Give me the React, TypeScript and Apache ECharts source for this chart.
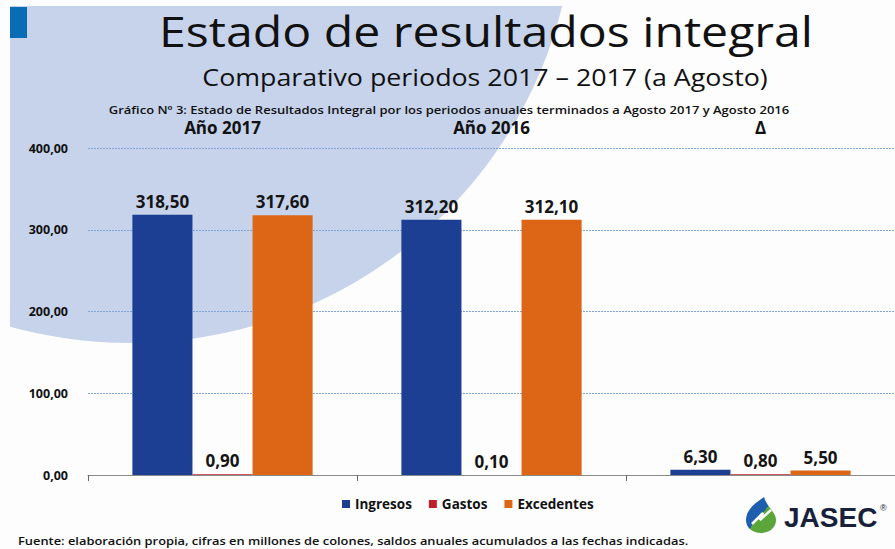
import React, { useEffect, useRef } from "react";
import * as echarts from "echarts";

const categories = ["Año 2017", "Año 2016", "Δ"];
const ingresos = [318.5, 312.2, 6.3];
const gastos = [0.9, 0.1, 0.8];
const excedentes = [317.6, 312.1, 5.5];
const seriesNames = ["Ingresos", "Gastos", "Excedentes"];

const mainTitle = "Estado de resultados integral";
const subTitle = "Comparativo periodos 2017 – 2017 (a Agosto)";
const chartCaption =
  "Gráfico Nº 3: Estado de Resultados Integral por los periodos anuales terminados a Agosto 2017 y Agosto 2016";
const footer =
  "Fuente: elaboración propia, cifras en millones de colones, saldos anuales acumulados a las fechas indicadas.";

const FONT = "'Open Sans', Lato, sans-serif";

echarts.graphic.registerShape(
  "drop",
  echarts.graphic.extendPath(
    "M18 0 C20 9 30 15 30 23 C30 31 23 36 15 36 C7 36 0 31 0 23 C0 13 9 6 18 0 Z",
    {}
  )
);

const fmt = (v: number) => v.toFixed(2).replace(".", ",");

export default function App() {
  const ref = useRef<HTMLDivElement>(null);
  useEffect(() => {
    if (!ref.current) return;
    const chart = echarts.init(ref.current, null, { renderer: "svg" });
    const label = {
      show: true,
      position: "top" as const,
      distance: 5,
      formatter: (p: any) => fmt(p.value),
      fontFamily: FONT,
      fontWeight: "bold" as const,
      fontSize: 17,
      color: "#151515",
    };
    chart.setOption({
      animation: false,
      backgroundColor: "#fdfdfd",
      textStyle: { fontFamily: FONT },
      color: ["#1c3f94", "#c0202b", "#dc6516"],
      graphic: [
        {
          type: "ellipse",
          z: -10,
          shape: { cx: 130, cy: -100, rx: 445, ry: 443 },
          style: { fill: "#c6d3eb" },
        },
        { type: "rect", z: -9, shape: { x: 0, y: 0, width: 10, height: 549 }, style: { fill: "#fdfdfd" } },
        { type: "rect", z: -9, shape: { x: 0, y: 0, width: 895, height: 6 }, style: { fill: "#fdfdfd" } },
        { type: "rect", z: -8, shape: { x: 10, y: 7, width: 17, height: 31 }, style: { fill: "#0b6cb6" } },
        {
          type: "text",
          x: 486,
          y: 31,
          scaleX: 1.148,
          style: {
            text: mainTitle,
            fontFamily: FONT,
            fontSize: 42,
            fill: "#111",
            textAlign: "center",
            textVerticalAlign: "middle",
          },
        },
        {
          type: "text",
          x: 485,
          y: 77,
          scaleX: 1.165,
          style: {
            text: subTitle,
            fontFamily: FONT,
            fontSize: 23,
            fill: "#111",
            textAlign: "center",
            textVerticalAlign: "middle",
          },
        },
        {
          type: "text",
          x: 449,
          y: 110,
          scaleX: 1.13,
          style: {
            text: chartCaption,
            fontFamily: FONT,
            fontSize: 11.5,
            fontWeight: 600,
            fill: "#111",
            textAlign: "center",
            textVerticalAlign: "middle",
          },
        },
        {
          type: "text",
          x: 18,
          y: 541,
          scaleX: 1.12,
          style: {
            text: footer,
            fontFamily: FONT,
            fontSize: 11.5,
            fontWeight: 600,
            fill: "#111",
            textAlign: "left",
            textVerticalAlign: "middle",
          },
        },
        {
          type: "drop",
          x: 746,
          y: 497,
          style: {
            fill: new echarts.graphic.LinearGradient(0, 0, 1, 1, [
              { offset: 0, color: "#1d5fae" },
              { offset: 0.5, color: "#1d5fae" },
              { offset: 0.5, color: "#5aa63a" },
              { offset: 1, color: "#5aa63a" },
            ]),
          },
        },
        {
          type: "polyline",
          shape: { points: [[752, 524], [763, 513], [760, 520], [771, 510]] },
          style: { stroke: "#fff", lineWidth: 2.5, fill: null },
        },
        {
          type: "text",
          x: 784,
          y: 517,
          style: {
            text: "JASEC",
            fontFamily: "'Liberation Sans', Arial, sans-serif",
            fontWeight: "bold",
            fontSize: 28,
            fill: "#17223a",
            textAlign: "left",
            textVerticalAlign: "middle",
          },
        },
        {
          type: "text",
          x: 880,
          y: 508,
          style: {
            text: "®",
            fontFamily: "'Liberation Sans', Arial, sans-serif",
            fontSize: 9,
            fill: "#17223a",
            textAlign: "left",
            textVerticalAlign: "middle",
          },
        },
      ],
      legend: {
        data: seriesNames,
        top: 492,
        left: 337,
        icon: "rect",
        itemWidth: 8,
        itemHeight: 8,
        itemGap: 17,
        textStyle: { fontFamily: FONT, fontWeight: "bold", fontSize: 13.5, color: "#111" },
      },
      grid: { left: 88, top: 148, width: 816, height: 327, containLabel: false },
      xAxis: [
        {
          type: "category",
          data: categories,
          position: "bottom",
          axisLine: { lineStyle: { color: "#8a8a8a" } },
          axisTick: { show: true, length: 6, lineStyle: { color: "#666" } },
          axisLabel: { show: false },
        },
        {
          type: "category",
          data: categories,
          position: "top",
          axisLine: { show: false },
          axisTick: { show: false },
          axisLabel: {
            show: true,
            margin: 12,
            fontFamily: FONT,
            fontWeight: "bold",
            fontSize: 17,
            color: "#111",
          },
        },
      ],
      yAxis: {
        type: "value",
        min: 0,
        max: 400,
        interval: 100,
        axisLine: { show: false },
        axisTick: { show: false },
        axisLabel: {
          margin: 20,
          formatter: (v: number) => fmt(v),
          fontFamily: FONT,
          fontWeight: "bold",
          fontSize: 12.5,
          color: "#111",
        },
        splitLine: { lineStyle: { color: "#7fa5d4", type: [2, 1], width: 1 } },
      },
      series: [
        { name: seriesNames[0], type: "bar", data: ingresos, barGap: "0%", barCategoryGap: "33%", label },
        { name: seriesNames[1], type: "bar", data: gastos, barGap: "0%", barCategoryGap: "33%", label },
        { name: seriesNames[2], type: "bar", data: excedentes, barGap: "0%", barCategoryGap: "33%", label },
      ],
    });
    return () => chart.dispose();
  }, []);
  return (
    <div
      ref={ref}
      style={{ position: "fixed", left: 0, top: 0, width: 895, height: 549 }}
    />
  );
}
